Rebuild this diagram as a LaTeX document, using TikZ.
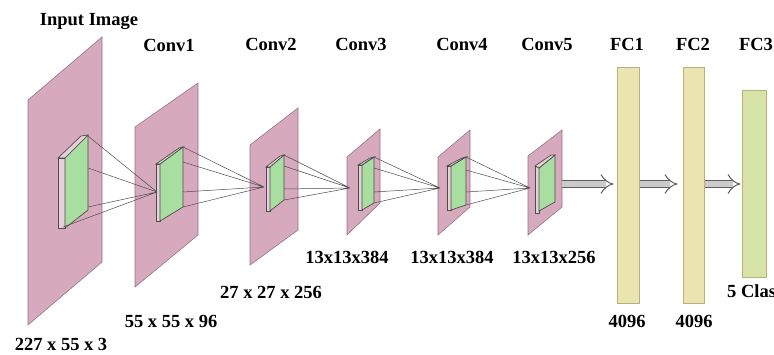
\documentclass[tikz,border=0pt]{standalone}
\usepackage{fontspec}
\setmainfont{Liberation Serif}
\usetikzlibrary{arrows.meta, positioning}

\definecolor{planepink}{RGB}{214,170,188}
\definecolor{planeedge}{RGB}{150,115,135}
\definecolor{kernelgreen}{RGB}{168,222,160}
\definecolor{fcyellow}{RGB}{233,228,176}
\definecolor{fcedge}{RGB}{185,175,120}
\definecolor{fcgreen}{RGB}{214,228,168}

\tikzset{
  plane/.style={fill=planepink, draw=planeedge, line width=0.6pt},
  kernel/.style={fill=kernelgreen, draw=black!70, line width=0.7pt},
  side/.style={fill=planepink!55!white, draw=black!70, line width=0.7pt},
  rf/.style={draw=black!70, line width=0.5pt},
  fc/.style={draw=fcedge, line width=0.9pt, fill=fcyellow, minimum width=22pt, minimum height=236pt, inner sep=0pt},
  flow/.style={draw=gray!75!black, double=gray!40, double distance=6pt, line width=1pt, -{Implies}},
  lbl/.style={font=\bfseries\fontsize{18.5}{20}\selectfont, inner sep=0pt}
}

\begin{document}
\begin{tikzpicture}[x=1pt, y=-1pt]
    \useasboundingbox (0,0) rectangle (774,355);

    % feature maps
    \draw[plane] (28,100) -- (28,325) -- (102,262) -- (102,37) -- cycle;
    \draw[plane] (135,127) -- (135,287) -- (198,235) -- (198,83) -- cycle;
    \draw[plane] (250,145) -- (250,265) -- (298,230) -- (298,108) -- cycle;
    \draw[plane] (347,157) -- (347,235) -- (380,203) -- (380,129) -- cycle;
    \draw[plane] (438,157) -- (438,235) -- (470,207) -- (470,130) -- cycle;
    \draw[plane] (528,156) -- (528,235) -- (562,207) -- (562,130) -- cycle;

    % kernels
    \draw[side] (58,158) -- (58,228) -- (65,228) -- (65,158) -- cycle;
    \draw[kernel] (65,158) -- (65,228) -- (88,210) -- (88,135) -- cycle;
    \draw[side] (58,158) -- (65,158) -- (88,135) -- (81,136) -- cycle;

    \draw[side] (156,164) -- (156,221) -- (160,221) -- (160,164) -- cycle;
    \draw[kernel] (160,164) -- (160,221) -- (183,207) -- (183,147) -- cycle;
    \draw[side] (156,164) -- (160,164) -- (183,147) -- (179,148) -- cycle;

    \draw[side] (266,167) -- (266,211) -- (270,211) -- (270,167) -- cycle;
    \draw[kernel] (270,167) -- (270,211) -- (284,200) -- (284,155) -- cycle;
    \draw[side] (266,167) -- (270,167) -- (284,155) -- (280,156) -- cycle;

    \draw[side] (358,165) -- (358,210) -- (362,210) -- (362,165) -- cycle;
    \draw[kernel] (362,165) -- (362,210) -- (374,203) -- (374,157) -- cycle;
    \draw[side] (358,165) -- (362,165) -- (374,157) -- (370,158) -- cycle;

    \draw[side] (447,166) -- (447,210) -- (451,210) -- (451,166) -- cycle;
    \draw[kernel] (451,166) -- (451,210) -- (466,205) -- (466,157) -- cycle;
    \draw[side] (447,166) -- (451,166) -- (466,157) -- (462,158) -- cycle;

    \draw[side] (535,166) -- (535,213) -- (539,213) -- (539,166) -- cycle;
    \draw[kernel] (539,168) -- (539,211) -- (555,202) -- (555,155) -- cycle;
    \draw[side] (535,166) -- (539,168) -- (555,155) -- (551,155) -- cycle;

    % receptive field corners and apexes
    \coordinate (k0a) at (88,136);
    \coordinate (k0b) at (88,168);
    \coordinate (k0c) at (88,207);
    \coordinate (k0d) at (63,227);
    \coordinate (k1a) at (183,147);
    \coordinate (k1b) at (183,162);
    \coordinate (k1c) at (183,192);
    \coordinate (k1d) at (183,207);
    \coordinate (k2a) at (284,155);
    \coordinate (k2b) at (284,166);
    \coordinate (k2c) at (284,189);
    \coordinate (k2d) at (284,200);
    \coordinate (k3a) at (374,157);
    \coordinate (k3b) at (374,168);
    \coordinate (k3c) at (374,192);
    \coordinate (k3d) at (374,203);
    \coordinate (k4a) at (466,157);
    \coordinate (k4b) at (466,170);
    \coordinate (k4c) at (466,192);
    \coordinate (k4d) at (466,205);
    \coordinate (a1) at (157,192);
    \coordinate (a2) at (264,187);
    \coordinate (a3) at (350,188);
    \coordinate (a4) at (440,188);
    \coordinate (a5) at (530,188);
    \coordinate (m5) at (562,184);

    \draw[rf] (k0a) -- (a1) (k0b) -- (a1) (k0c) -- (a1) (k0d) -- (a1);
    \draw[rf] (k1a) -- (a2) (k1b) -- (a2) (k1c) -- (a2) (k1d) -- (a2);
    \draw[rf] (k2a) -- (a3) (k2b) -- (a3) (k2c) -- (a3) (k2d) -- (a3);
    \draw[rf] (k3a) -- (a4) (k3b) -- (a4) (k3c) -- (a4) (k3d) -- (a4);
    \draw[rf] (k4a) -- (a5) (k4b) -- (a5) (k4c) -- (a5) (k4d) -- (a5);

    % fully connected layers
    \node[fc] (fc1) at (628,185) {};
    \node[fc, minimum width=21pt] (fc2) at (693.5,185) {};
    \node[fc, fill=fcgreen, minimum width=24pt, minimum height=187pt] (fc3) at (754,183.5) {};

    \draw[flow, shorten >=3pt] (m5) -- (fc1.west |- m5);
    \draw[flow, shorten <=1pt, shorten >=5pt] (fc1.east |- m5) -- (fc2.west |- m5);
    \draw[flow, shorten <=1pt, shorten >=1pt] (fc2.east |- m5) -- (fc3.west |- m5);

    % titles
    \node[lbl] (tin) at (89,21) {Input Image};
    \node[lbl] (tc1) at (169,45) {Conv1};
    \node[lbl] (tc2) at (271,44) {Conv2};
    \node[lbl] (tc3) at (361,44) {Conv3};
    \node[lbl] (tc4) at (462,44) {Conv4};
    \node[lbl] (tc5) at (547,44) {Conv5};
    \node[lbl] (tf1) at (627,44) {FC1};
    \node[lbl] (tf2) at (693,44) {FC2};
    \node[lbl] (tf3) at (756,44) {FC3};

    % sizes
    \node[lbl] (sin) at (61,344) {227 x 55 x 3};
    \node[lbl] (sc1) at (171,321) {55 x 55 x 96};
    \node[lbl] (sc2) at (271,292) {27 x 27 x 256};
    \node[lbl] (sc3) at (347,257) {13x13x384};
    \node[lbl] (sc4) at (452,257) {13x13x384};
    \node[lbl] (sc5) at (554,257) {13x13x256};
    \node[lbl] (sf1) at (627,321) {4096};
    \node[lbl] (sf2) at (694,321) {4096};
    \node[lbl, anchor=west] (sf3) at (727,291) {5 Classes};
\end{tikzpicture}
\end{document}
